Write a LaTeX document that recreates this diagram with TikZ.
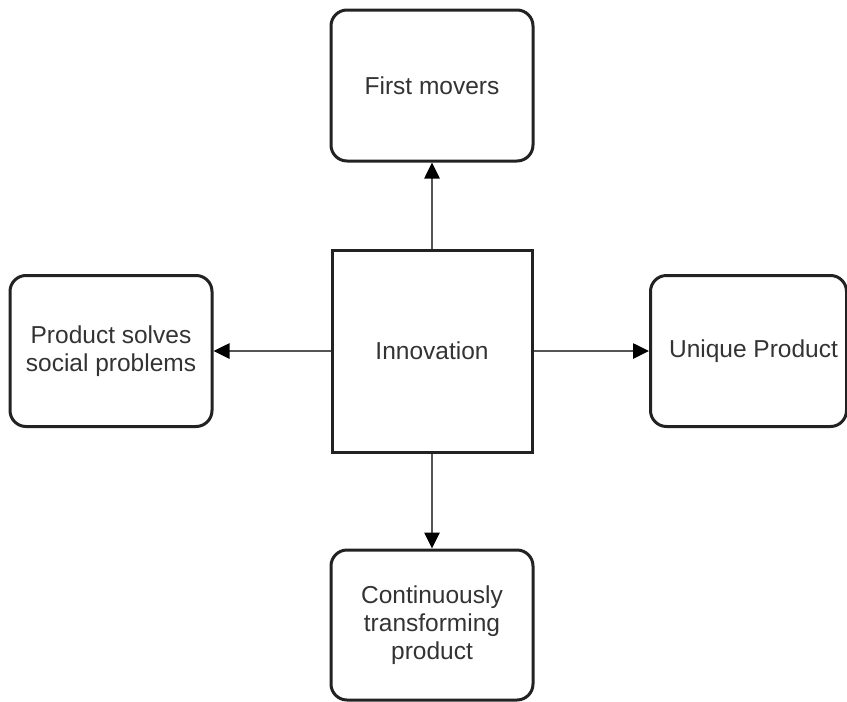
\documentclass[tikz,border=0pt]{standalone}
\usepackage{fontspec}
\setmainfont{Liberation Sans}
\usetikzlibrary{arrows.meta}
\definecolor{edgegray}{HTML}{555555}
\definecolor{boxline}{HTML}{222222}
\definecolor{txt}{HTML}{333333}
\tikzset{
  roundbox/.style={draw=boxline, line width=3pt, rounded corners=16pt,
    rectangle, inner sep=0pt, align=center, text=txt,
    font=\fontsize{24.5}{28}\selectfont},
  squarebox/.style={draw=boxline, line width=3pt, rectangle, inner sep=0pt,
    align=center, text=txt, font=\fontsize{24.5}{28}\selectfont},
  link/.style={draw=edgegray, line width=2.6pt,
    -{Triangle[length=16pt, width=15pt, color=black]}}
}
\begin{document}
\begin{tikzpicture}[x=1pt, y=-1pt]
  \useasboundingbox (0,0) rectangle (847,702);
  % central concept
  \node[squarebox, minimum width=200pt, minimum height=202pt] (inno) at (432,351) {Innovation};
  % surrounding outcomes
  \node[roundbox, minimum width=202pt, minimum height=151pt] (first) at (432,85.5) {First movers};
  \node[roundbox, minimum width=202pt, minimum height=151pt] (social) at (111,351) {Product solves\\social problems};
  \node[roundbox, minimum width=196pt, minimum height=151pt] (unique) at (748.5,351) {\hspace*{10pt}Unique Product};
  \node[roundbox, minimum width=202pt, minimum height=150pt] (cont) at (432,625) {Continuously\\transforming\\product};
  % connectors
  \draw[link] (inno.north) -- (first.south);
  \draw[link] (inno.west) -- (social.east);
  \draw[link] (inno.east) -- (unique.west);
  \draw[link] (inno.south) -- (cont.north);
\end{tikzpicture}
\end{document}
